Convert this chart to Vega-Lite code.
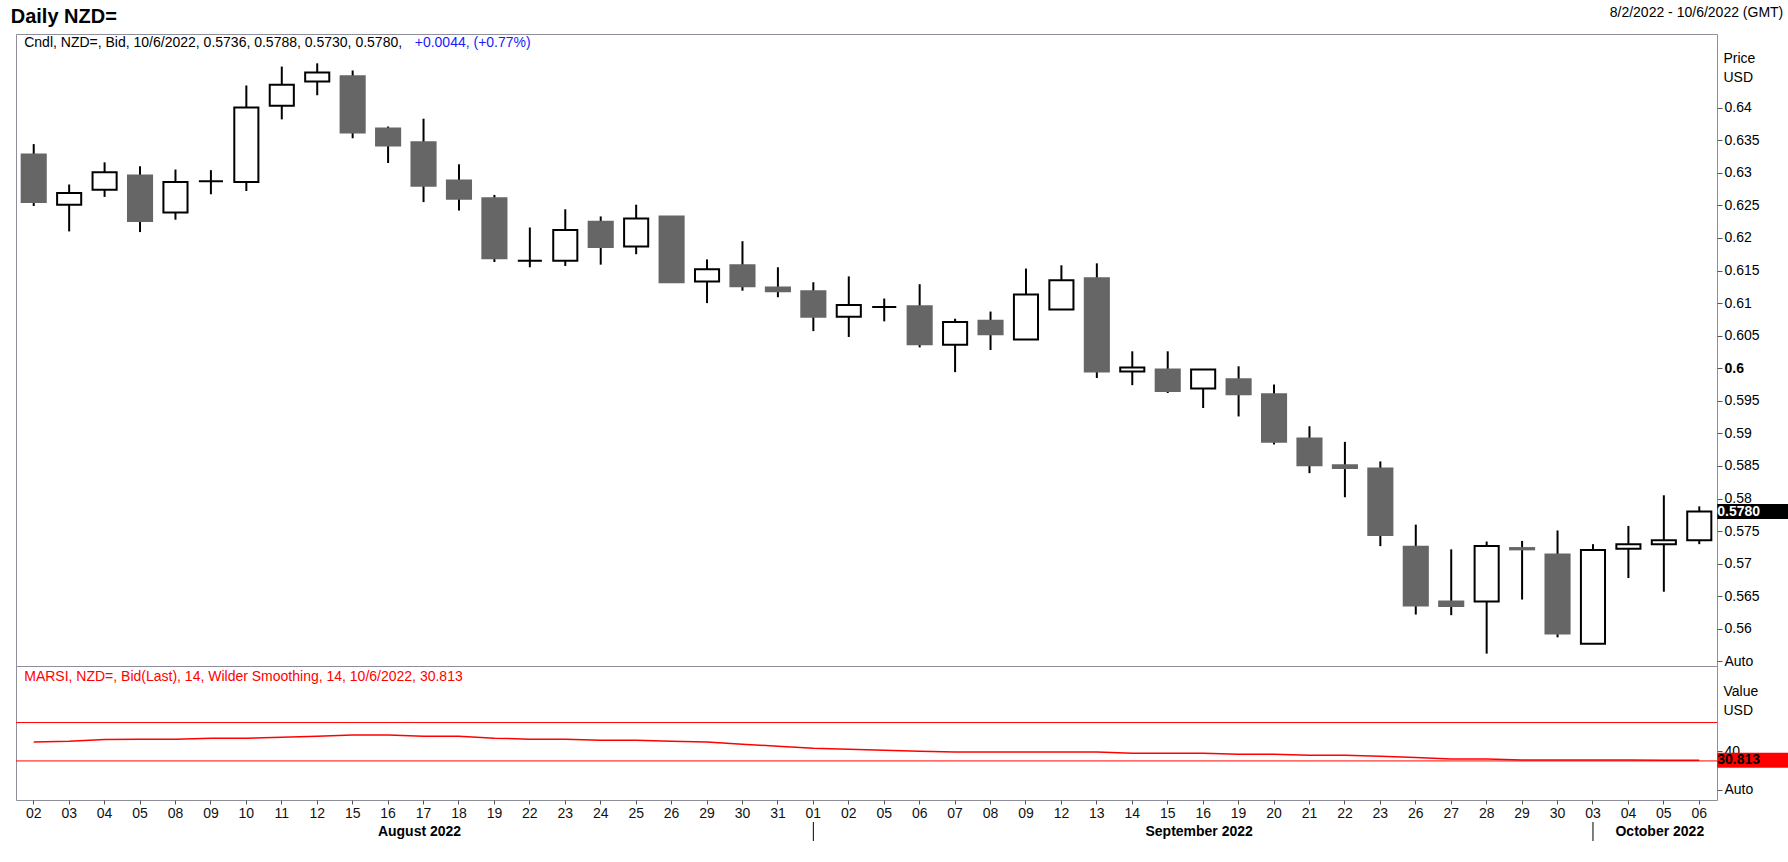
{
  "$schema": "https://vega.github.io/schema/vega-lite/v6.json",
  "padding": {"left": 10, "top": 5, "right": 0, "bottom": 0},
  "background": "white",
  "config": {
    "font": "Liberation Sans",
    "view": {"stroke": "#8f8f9c", "strokeWidth": 1},
    "axis": {"grid": false, "domain": false, "labelOverlap": false}
  },
  "datasets": {
    "nzd": [
      {"date": "2022-08-02", "open": 0.6328, "high": 0.6344, "low": 0.6249, "close": 0.6255, "rsi": 49.8},
      {"date": "2022-08-03", "open": 0.6251, "high": 0.6282, "low": 0.6210, "close": 0.6269, "rsi": 50.6},
      {"date": "2022-08-04", "open": 0.6274, "high": 0.6316, "low": 0.6263, "close": 0.6301, "rsi": 52.4},
      {"date": "2022-08-05", "open": 0.6296, "high": 0.6310, "low": 0.6209, "close": 0.6226, "rsi": 52.7},
      {"date": "2022-08-08", "open": 0.6239, "high": 0.6305, "low": 0.6228, "close": 0.6286, "rsi": 52.7},
      {"date": "2022-08-09", "open": 0.6287, "high": 0.6304, "low": 0.6267, "close": 0.6287, "rsi": 53.7},
      {"date": "2022-08-10", "open": 0.6286, "high": 0.6434, "low": 0.6272, "close": 0.6400, "rsi": 53.7},
      {"date": "2022-08-11", "open": 0.6403, "high": 0.6463, "low": 0.6382, "close": 0.6435, "rsi": 54.7},
      {"date": "2022-08-12", "open": 0.6440, "high": 0.6468, "low": 0.6419, "close": 0.6454, "rsi": 55.8},
      {"date": "2022-08-15", "open": 0.6448, "high": 0.6457, "low": 0.6353, "close": 0.6362, "rsi": 57.1},
      {"date": "2022-08-16", "open": 0.6368, "high": 0.6371, "low": 0.6315, "close": 0.6342, "rsi": 57.1},
      {"date": "2022-08-17", "open": 0.6347, "high": 0.6383, "low": 0.6255, "close": 0.6280, "rsi": 55.8},
      {"date": "2022-08-18", "open": 0.6288, "high": 0.6313, "low": 0.6242, "close": 0.6260, "rsi": 55.8},
      {"date": "2022-08-19", "open": 0.6261, "high": 0.6266, "low": 0.6163, "close": 0.6169, "rsi": 53.7},
      {"date": "2022-08-22", "open": 0.6165, "high": 0.6216, "low": 0.6155, "close": 0.6165, "rsi": 52.7},
      {"date": "2022-08-23", "open": 0.6165, "high": 0.6244, "low": 0.6157, "close": 0.6212, "rsi": 52.7},
      {"date": "2022-08-24", "open": 0.6225, "high": 0.6233, "low": 0.6159, "close": 0.6186, "rsi": 51.6},
      {"date": "2022-08-25", "open": 0.6187, "high": 0.6251, "low": 0.6175, "close": 0.6230, "rsi": 51.6},
      {"date": "2022-08-26", "open": 0.6233, "high": 0.6233, "low": 0.6131, "close": 0.6132, "rsi": 50.6},
      {"date": "2022-08-29", "open": 0.6133, "high": 0.6167, "low": 0.6100, "close": 0.6152, "rsi": 49.8},
      {"date": "2022-08-30", "open": 0.6158, "high": 0.6195, "low": 0.6119, "close": 0.6126, "rsi": 47.4},
      {"date": "2022-08-31", "open": 0.6124, "high": 0.6155, "low": 0.6109, "close": 0.6118, "rsi": 45.3},
      {"date": "2022-09-01", "open": 0.6118, "high": 0.6132, "low": 0.6057, "close": 0.6079, "rsi": 43.3},
      {"date": "2022-09-02", "open": 0.6079, "high": 0.6141, "low": 0.6048, "close": 0.6097, "rsi": 42.2},
      {"date": "2022-09-05", "open": 0.6094, "high": 0.6107, "low": 0.6072, "close": 0.6094, "rsi": 41.2},
      {"date": "2022-09-06", "open": 0.6095, "high": 0.6129, "low": 0.6032, "close": 0.6037, "rsi": 40.1},
      {"date": "2022-09-07", "open": 0.6036, "high": 0.6076, "low": 0.5994, "close": 0.6071, "rsi": 39.4},
      {"date": "2022-09-08", "open": 0.6073, "high": 0.6087, "low": 0.6028, "close": 0.6052, "rsi": 39.4},
      {"date": "2022-09-09", "open": 0.6044, "high": 0.6153, "low": 0.6044, "close": 0.6113, "rsi": 39.4},
      {"date": "2022-09-12", "open": 0.6090, "high": 0.6158, "low": 0.6090, "close": 0.6135, "rsi": 39.4},
      {"date": "2022-09-13", "open": 0.6138, "high": 0.6161, "low": 0.5985, "close": 0.5995, "rsi": 39.4},
      {"date": "2022-09-14", "open": 0.5995, "high": 0.6026, "low": 0.5974, "close": 0.6001, "rsi": 38.0},
      {"date": "2022-09-15", "open": 0.5998, "high": 0.6026, "low": 0.5962, "close": 0.5965, "rsi": 38.0},
      {"date": "2022-09-16", "open": 0.5969, "high": 0.5998, "low": 0.5939, "close": 0.5998, "rsi": 38.0},
      {"date": "2022-09-19", "open": 0.5983, "high": 0.6003, "low": 0.5926, "close": 0.5960, "rsi": 37.0},
      {"date": "2022-09-20", "open": 0.5960, "high": 0.5975, "low": 0.5883, "close": 0.5887, "rsi": 37.0},
      {"date": "2022-09-21", "open": 0.5892, "high": 0.5911, "low": 0.5839, "close": 0.5851, "rsi": 35.9},
      {"date": "2022-09-22", "open": 0.5851, "high": 0.5887, "low": 0.5802, "close": 0.5847, "rsi": 35.9},
      {"date": "2022-09-23", "open": 0.5846, "high": 0.5857, "low": 0.5727, "close": 0.5744, "rsi": 34.9},
      {"date": "2022-09-26", "open": 0.5726, "high": 0.5760, "low": 0.5622, "close": 0.5636, "rsi": 33.7},
      {"date": "2022-09-27", "open": 0.5642, "high": 0.5722, "low": 0.5621, "close": 0.5635, "rsi": 32.1},
      {"date": "2022-09-28", "open": 0.5642, "high": 0.5734, "low": 0.5562, "close": 0.5727, "rsi": 32.1},
      {"date": "2022-09-29", "open": 0.5724, "high": 0.5735, "low": 0.5645, "close": 0.5722, "rsi": 31.0},
      {"date": "2022-09-30", "open": 0.5714, "high": 0.5751, "low": 0.5587, "close": 0.5593, "rsi": 30.9},
      {"date": "2022-10-03", "open": 0.5577, "high": 0.5730, "low": 0.5577, "close": 0.5721, "rsi": 30.9},
      {"date": "2022-10-04", "open": 0.5723, "high": 0.5758, "low": 0.5678, "close": 0.5730, "rsi": 30.85},
      {"date": "2022-10-05", "open": 0.5730, "high": 0.5805, "low": 0.5657, "close": 0.5736, "rsi": 30.8},
      {"date": "2022-10-06", "open": 0.5736, "high": 0.5788, "low": 0.5730, "close": 0.5780, "rsi": 30.813}
    ]
  },
  "spacing": 0,
  "resolve": {"scale": {"x": "shared", "y": "independent"}, "axis": {"x": "independent", "y": "independent"}},
  "vconcat": [
    {
      "spacing": 0,
      "bounds": "flush",
      "resolve": {"scale": {"x": "shared", "y": "independent"}, "axis": {"x": "independent", "y": "independent"}},
      "vconcat": [
        {
          "width": 1701,
          "height": 632,
          "data": {"name": "nzd"},
          "encoding": {
            "x": {"field": "date", "type": "ordinal", "scale": {"type": "band", "paddingInner": 0.32, "paddingOuter": 0.16}, "axis": null}
          },
          "layer": [
            {
              "mark": {"type": "rule", "color": "black", "strokeWidth": 2},
              "encoding": {
                "y": {
                  "field": "low",
                  "type": "quantitative",
                  "scale": {"domain": [0.5543, 0.6513], "nice": false, "zero": false},
                  "axis": {
                    "orient": "right",
                    "values": [0.555, 0.56, 0.565, 0.57, 0.575, 0.58, 0.585, 0.59, 0.595, 0.6, 0.605, 0.61, 0.615, 0.62, 0.625, 0.63, 0.635, 0.64],
                    "tickCount": 40,
                    "labelExpr": "datum.value < 0.5575 ? 'Auto' : '' + round(datum.value * 1000) / 1000",
                    "labelFontWeight": {"condition": {"test": "abs(datum.value - 0.6) < 0.0001", "value": "bold"}, "value": "normal"},
                    "labelFontSize": 14,
                    "labelColor": "black",
                    "labelPadding": 2,
                    "labelOverlap": false,
                    "tickSize": 5,
                    "tickColor": "#555555",
                    "title": ["Price", "USD"],
                    "titleAngle": 0,
                    "titleAlign": "left",
                    "titleBaseline": "top",
                    "titleX": 6,
                    "titleY": 17,
                    "titleLineHeight": 19,
                    "titleFontSize": 14,
                    "titleFontWeight": "normal",
                    "titleColor": "black"
                  }
                },
                "y2": {"field": "high"}
              }
            },
            {
              "mark": {"type": "bar", "strokeWidth": 2},
              "encoding": {
                "y": {"field": "open", "type": "quantitative"},
                "y2": {"field": "close"},
                "fill": {"condition": {"test": "datum.close >= datum.open", "value": "white"}, "value": "#666666"},
                "stroke": {"condition": {"test": "datum.close >= datum.open", "value": "black"}, "value": "#666666"}
              }
            },
            {
              "transform": [{"filter": "datum.date == '2022-10-06'"}],
              "mark": {"type": "rule", "color": "black", "strokeWidth": 15, "strokeCap": "butt", "xOffset": 18, "x2Offset": 89},
              "encoding": {
                "x2": {"field": "date"},
                "y": {"field": "close", "type": "quantitative"}
              }
            },
            {
              "transform": [{"filter": "datum.date == '2022-10-06'"}],
              "mark": {"type": "text", "align": "left", "baseline": "middle", "dx": 18, "fontSize": 14, "fontWeight": "bold", "color": "white"},
              "encoding": {
                "y": {"field": "close", "type": "quantitative"},
                "text": {"field": "close", "type": "quantitative", "format": ".4f"}
              }
            },
            {
              "data": {"values": [{"label": "Daily NZD="}]},
              "mark": {"type": "text", "align": "left", "baseline": "middle", "dx": -23, "dy": -17, "fontSize": 20, "fontWeight": "bold", "color": "black"},
              "encoding": {
                "x": {"datum": "2022-08-02", "type": "ordinal"},
                "y": {"datum": 0.6513, "type": "quantitative"},
                "text": {"field": "label"}
              }
            },
            {
              "data": {"values": [{"label": "8/2/2022 - 10/6/2022 (GMT)"}]},
              "mark": {"type": "text", "align": "right", "baseline": "middle", "dx": 84, "dy": -21, "fontSize": 14, "color": "black"},
              "encoding": {
                "x": {"datum": "2022-10-06", "type": "ordinal"},
                "y": {"datum": 0.6513, "type": "quantitative"},
                "text": {"field": "label"}
              }
            },
            {
              "data": {"values": [{"label": "Cndl, NZD=, Bid, 10/6/2022, 0.5736, 0.5788, 0.5730, 0.5780,"}]},
              "mark": {"type": "text", "align": "left", "baseline": "middle", "dx": -9.5, "dy": 9, "fontSize": 14, "color": "black"},
              "encoding": {
                "x": {"datum": "2022-08-02", "type": "ordinal"},
                "y": {"datum": 0.6513, "type": "quantitative"},
                "text": {"field": "label"}
              }
            },
            {
              "data": {"values": [{"label": "+0.0044, (+0.77%)"}]},
              "mark": {"type": "text", "align": "left", "baseline": "middle", "dx": 381, "dy": 9, "fontSize": 14, "color": "#1a1aff"},
              "encoding": {
                "x": {"datum": "2022-08-02", "type": "ordinal"},
                "y": {"datum": 0.6513, "type": "quantitative"},
                "text": {"field": "label"}
              }
            }
          ]
        },
        {
          "width": 1701,
          "height": 134,
          "data": {"name": "nzd"},
          "encoding": {
            "x": {
              "field": "date",
              "type": "ordinal",
              "scale": {"type": "band", "paddingInner": 0.32, "paddingOuter": 0.16},
              "axis": {
                "orient": "bottom",
                "labelExpr": "slice(datum.value, 8)",
                "labelAngle": 0,
                "labelFontSize": 14,
                "labelColor": "#111111",
                "labelPadding": 2,
                "labelOverlap": false,
                "tickSize": 4,
                "tickColor": "#555555",
                "title": null
              }
            }
          },
          "layer": [
            {
              "data": {"values": [{"level": 70}, {"level": 30}]},
              "mark": {"type": "rule", "color": "#ff0000", "strokeWidth": 1},
              "encoding": {
                "x": null,
                "y": {
                  "field": "level",
                  "type": "quantitative",
                  "scale": {"domain": [-10.7, 128.9], "nice": false, "zero": false},
                  "axis": {
                    "orient": "right",
                    "values": [0, 40],
                    "tickCount": 10,
                    "labelExpr": "datum.value == 0 ? 'Auto' : datum.label",
                    "labelFontSize": 14,
                    "labelColor": "black",
                    "labelPadding": 2,
                    "labelOverlap": false,
                    "tickSize": 5,
                    "tickColor": "#555555",
                    "title": ["Value", "USD"],
                    "titleAngle": 0,
                    "titleAlign": "left",
                    "titleBaseline": "top",
                    "titleX": 6,
                    "titleY": 18,
                    "titleLineHeight": 19,
                    "titleFontSize": 14,
                    "titleFontWeight": "normal",
                    "titleColor": "black"
                  }
                }
              }
            },
            {
              "mark": {"type": "line", "color": "#ff0000", "strokeWidth": 1.5},
              "encoding": {"y": {"field": "rsi", "type": "quantitative"}}
            },
            {
              "transform": [{"filter": "datum.date == '2022-10-06'"}],
              "mark": {"type": "rule", "color": "#ff0000", "strokeWidth": 15, "strokeCap": "butt", "xOffset": 18, "x2Offset": 89},
              "encoding": {
                "x2": {"field": "date"},
                "y": {"field": "rsi", "type": "quantitative"}
              }
            },
            {
              "transform": [{"filter": "datum.date == '2022-10-06'"}],
              "mark": {"type": "text", "align": "left", "baseline": "middle", "dx": 18, "fontSize": 14, "fontWeight": "bold", "color": "black"},
              "encoding": {
                "y": {"field": "rsi", "type": "quantitative"},
                "text": {"field": "rsi", "type": "quantitative", "format": ".3f"}
              }
            },
            {
              "data": {"values": [{"label": "MARSI, NZD=, Bid(Last),  14, Wilder Smoothing, 14, 10/6/2022, 30.813"}]},
              "mark": {"type": "text", "align": "left", "baseline": "middle", "dx": -9.5, "dy": 11, "fontSize": 14, "color": "#ff0000"},
              "encoding": {
                "x": {"datum": "2022-08-02", "type": "ordinal"},
                "y": {"datum": 128.9, "type": "quantitative"},
                "text": {"field": "label"}
              }
            }
          ]
        }
      ]
    },
    {
      "width": 1701,
      "height": 19,
      "view": {"stroke": null},
      "layer": [
        {
          "data": {"values": [{"date": "2022-09-01"}, {"date": "2022-10-03"}]},
          "mark": {"type": "rule", "color": "black", "strokeWidth": 1},
          "encoding": {
            "x": {"field": "date", "type": "ordinal", "scale": {"type": "band", "paddingInner": 0.32, "paddingOuter": 0.16}, "axis": null}
          }
        },
        {
          "data": {"values": [
            {"date": "2022-08-17", "month": "August 2022"},
            {"date": "2022-09-16", "month": "September 2022"},
            {"date": "2022-10-05", "month": "October 2022"}
          ]},
          "mark": {"type": "text", "baseline": "middle", "dx": -4, "fontSize": 14, "fontWeight": "bold", "color": "black"},
          "encoding": {
            "x": {"field": "date", "type": "ordinal", "scale": {"type": "band", "paddingInner": 0.32, "paddingOuter": 0.16}, "axis": null},
            "text": {"field": "month"}
          }
        }
      ]
    }
  ]
}
